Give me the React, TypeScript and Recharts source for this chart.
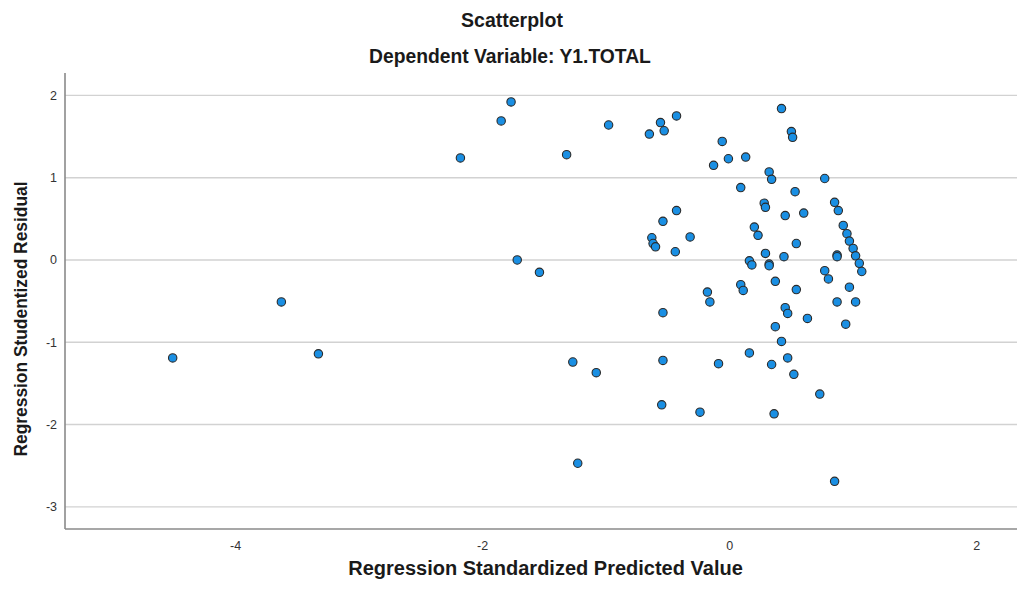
import React from "react";
import { ScatterChart, Scatter, XAxis, YAxis, CartesianGrid } from "recharts";

// Regression standardized predicted values (x) and studentized residuals (y)
const predictedValues: number[] = [
  -4.51, -3.63, -3.33, -2.18, -1.85, -1.77, -1.72, -1.54, -1.32, -1.27,
  -1.23, -1.08, -0.98, -0.65, -0.63, -0.62, -0.6, -0.56, -0.54, -0.54,
  -0.54, -0.55, -0.53, -0.44, -0.43, -0.43, -0.32, -0.24, -0.18, -0.16,
  -0.13, -0.09, -0.06, -0.01, 0.09, 0.09, 0.11, 0.13, 0.16, 0.18,
  0.16, 0.2, 0.23, 0.28, 0.29, 0.29, 0.32, 0.34, 0.32, 0.32,
  0.34, 0.36, 0.37, 0.37, 0.42, 0.42, 0.44, 0.45, 0.45, 0.47,
  0.47, 0.5, 0.51, 0.52, 0.53, 0.54, 0.54, 0.6, 0.63, 0.73,
  0.77, 0.77, 0.8, 0.85, 0.88, 0.87, 0.87, 0.87, 0.85, 0.92,
  0.94, 0.95, 0.97, 0.97, 1.0, 1.02, 1.02, 1.05, 1.07,
];

const studentizedResiduals: number[] = [
  -1.19, -0.51, -1.14, 1.24, 1.69, 1.92, 0.0, -0.15, 1.28, -1.24,
  -2.47, -1.37, 1.64, 1.53, 0.27, 0.2, 0.16, 1.67, 0.47, -0.64,
  -1.22, -1.76, 1.57, 0.1, 1.75, 0.6, 0.28, -1.85, -0.39, -0.51,
  1.15, -1.26, 1.44, 1.23, 0.88, -0.3, -0.37, 1.25, -0.01, -0.06,
  -1.13, 0.4, 0.3, 0.69, 0.64, 0.08, 1.07, 0.98, -0.05, -0.07,
  -1.27, -1.87, -0.26, -0.81, 1.84, -0.99, 0.04, 0.54, -0.58, -0.65,
  -1.19, 1.56, 1.49, -1.39, 0.83, 0.2, -0.36, 0.57, -0.71, -1.63,
  0.99, -0.13, -0.23, 0.7, 0.6, 0.06, 0.04, -0.51, -2.69, 0.42,
  -0.78, 0.32, 0.23, -0.33, 0.14, 0.05, -0.51, -0.04, -0.14,
];

const xTicks: number[] = [-4, -2, 0, 2];
const yTicks: number[] = [2, 1, 0, -1, -2, -3];

const chartTitle = "Scatterplot";
const chartSubtitle = "Dependent Variable: Y1.TOTAL";
const xAxisTitle = "Regression Standardized Predicted Value";
const yAxisTitle = "Regression Studentized Residual";

const data = predictedValues.map((x, i) => ({ x, y: studentizedResiduals[i] }));

const FONT = "'Liberation Sans', Arial, Helvetica, sans-serif";

const Dot = (props: any) => {
  const { cx, cy } = props;
  if (cx == null || cy == null) return null;
  return <circle cx={cx} cy={cy} r={4.2} fill="#1a8fe3" stroke="#2a2a2a" strokeWidth={1.1} />;
};

export default function App() {
  return (
    <div
      style={{
        position: "absolute",
        left: 0,
        top: 0,
        width: 1017,
        height: 591,
        background: "#ffffff",
        overflow: "hidden",
      }}
    >
      <ScatterChart
        width={1017}
        height={591}
        margin={{ top: 73, right: 0, bottom: 0, left: 0 }}
        style={{ fontFamily: FONT }}
      >
        <CartesianGrid vertical={false} stroke="#d2d2d2" strokeWidth={1.4} horizontalValues={yTicks} />
        <XAxis
          type="number"
          dataKey="x"
          domain={[-5.382, 2.327]}
          ticks={xTicks}
          allowDataOverflow
          height={62}
          tickLine={false}
          tickSize={0}
          tickMargin={12}
          axisLine={{ stroke: "#8a8a8a", strokeWidth: 1.6 }}
          tick={{ fill: "#333333", fontSize: 12.5, fontFamily: FONT }}
          interval={0}
        />
        <YAxis
          type="number"
          dataKey="y"
          domain={[-3.269, 2.272]}
          ticks={yTicks}
          allowDataOverflow
          width={65}
          tickLine={false}
          tickSize={0}
          tickMargin={8}
          axisLine={{ stroke: "#8a8a8a", strokeWidth: 1.6 }}
          tick={{ fill: "#333333", fontSize: 12.5, fontFamily: FONT }}
          interval={0}
        />
        <Scatter data={data} shape={Dot} isAnimationActive={false} />
      </ScatterChart>
      <svg
        width={1017}
        height={591}
        style={{ position: "absolute", left: 0, top: 0, pointerEvents: "none" }}
      >
        <text
          x={512}
          y={26.7}
          textAnchor="middle"
          fontFamily={FONT}
          fontWeight="bold"
          fontSize={19.5}
          fill="#1a1a1a"
        >
          {chartTitle}
        </text>
        <text
          x={510}
          y={63}
          textAnchor="middle"
          fontFamily={FONT}
          fontWeight="bold"
          fontSize={19.3}
          fill="#1a1a1a"
        >
          {chartSubtitle}
        </text>
        <text
          x={545.5}
          y={575}
          textAnchor="middle"
          fontFamily={FONT}
          fontWeight="bold"
          fontSize={20}
          fill="#1a1a1a"
        >
          {xAxisTitle}
        </text>
        <text
          x={26.5}
          y={319}
          transform="rotate(-90 26.5 319)"
          textAnchor="middle"
          fontFamily={FONT}
          fontWeight="bold"
          fontSize={19}
          textLength={275}
          lengthAdjust="spacingAndGlyphs"
          fill="#1a1a1a"
        >
          {yAxisTitle}
        </text>
      </svg>
    </div>
  );
}
